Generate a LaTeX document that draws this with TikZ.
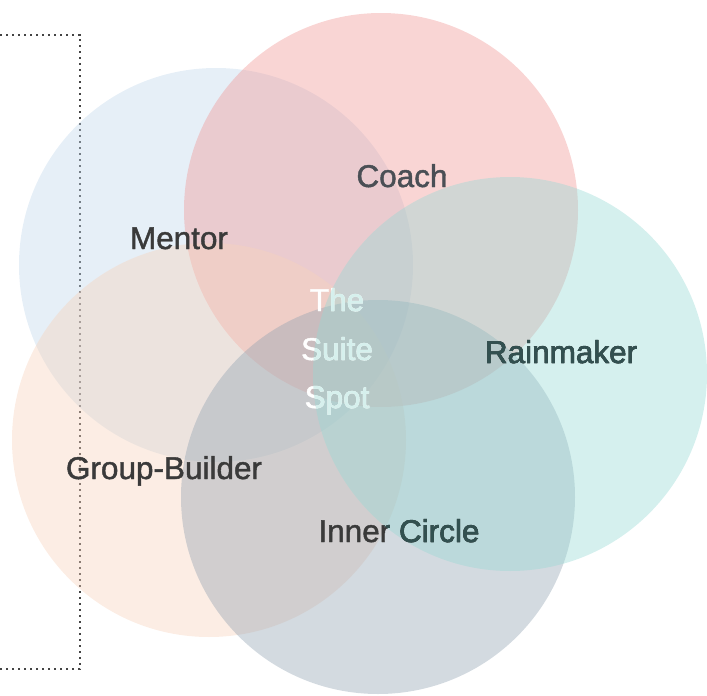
\documentclass[tikz,border=0pt]{standalone}
\usepackage{fontspec}
\setmainfont{Liberation Sans}
\newfontfamily\lblfont{Liberation Sans}[FakeBold=1.4]
\definecolor{cmentor}{RGB}{192,215,235}
\definecolor{ccoach}{RGB}{240,150,148}
\definecolor{crain}{RGB}{150,217,212}
\definecolor{cgroup}{RGB}{247,210,187}
\definecolor{cinner}{RGB}{145,162,177}
\definecolor{labelgrey}{RGB}{58,58,58}
\definecolor{coachgrey}{RGB}{74,79,85}
\definecolor{tealtext}{RGB}{50,80,80}
\definecolor{spotcyan}{RGB}{214,240,237}
\definecolor{bracketgrey}{RGB}{68,68,68}
\tikzset{
  venn/.style={circle, minimum size=394pt, inner sep=0pt, fill opacity=0.4, draw=none},
  lbl/.style={anchor=base, text=labelgrey, font=\lblfont\fontsize{31.5}{38}\selectfont, inner sep=0pt},
  spot/.style={anchor=base, text=white, font=\lblfont\fontsize{31.5}{38}\selectfont, inner sep=0pt},
  bracket/.style={draw=bracketgrey, line width=2.4pt, dash pattern=on 2.4pt off 3.6pt}
}
\begin{document}
\begin{tikzpicture}[x=1pt,y=-1pt]
\useasboundingbox (0,0) rectangle (707,696);
% bracket
\coordinate (b1) at (0,35);
\coordinate (b2) at (80,35);
\coordinate (b3) at (80,669);
\coordinate (b4) at (0,669);
\draw[bracket] (b1) -- (b2) -- (b3) -- (b4);
% circles
\node[venn, fill=cmentor] (mentor) at (216,265) {};
\node[venn, fill=ccoach] (coach) at (381,210) {};
\node[venn, fill=cgroup] (group) at (209,440) {};
\node[venn, fill=cinner] (inner) at (378,497) {};
\node[venn, fill=crain] (rain) at (510,374) {};
% labels
\node[lbl, text=coachgrey] (lcoach) at (402,187) {Coach};
\node[lbl] (lmentor) at (179,249) {Mentor};
\node[lbl] (lrain) at (561,363) {Rainmaker};
\node[lbl] (lgroup) at (164,479) {Group-Builder};
\node[lbl] (linner) at (399,542) {Inner Circle};
\node[spot] (sp1) at (337,311) {The};
\node[spot] (sp2) at (337,360) {Suite};
\node[spot] (sp3) at (337,408) {Spot};
% tinted copies of the labels inside the Rainmaker circle
\begin{scope}
  \clip (rain.center) circle (197pt);
  \node[lbl, text=tealtext] (lrainT) at (561,363) {Rainmaker};
  \node[lbl, text=tealtext] (linnerT) at (399,542) {Inner Circle};
  \node[spot, text=spotcyan] (sp1T) at (337,311) {The};
  \node[spot, text=spotcyan] (sp2T) at (337,360) {Suite};
  \node[spot, text=spotcyan] (sp3T) at (337,408) {Spot};
\end{scope}
\end{tikzpicture}
\end{document}
